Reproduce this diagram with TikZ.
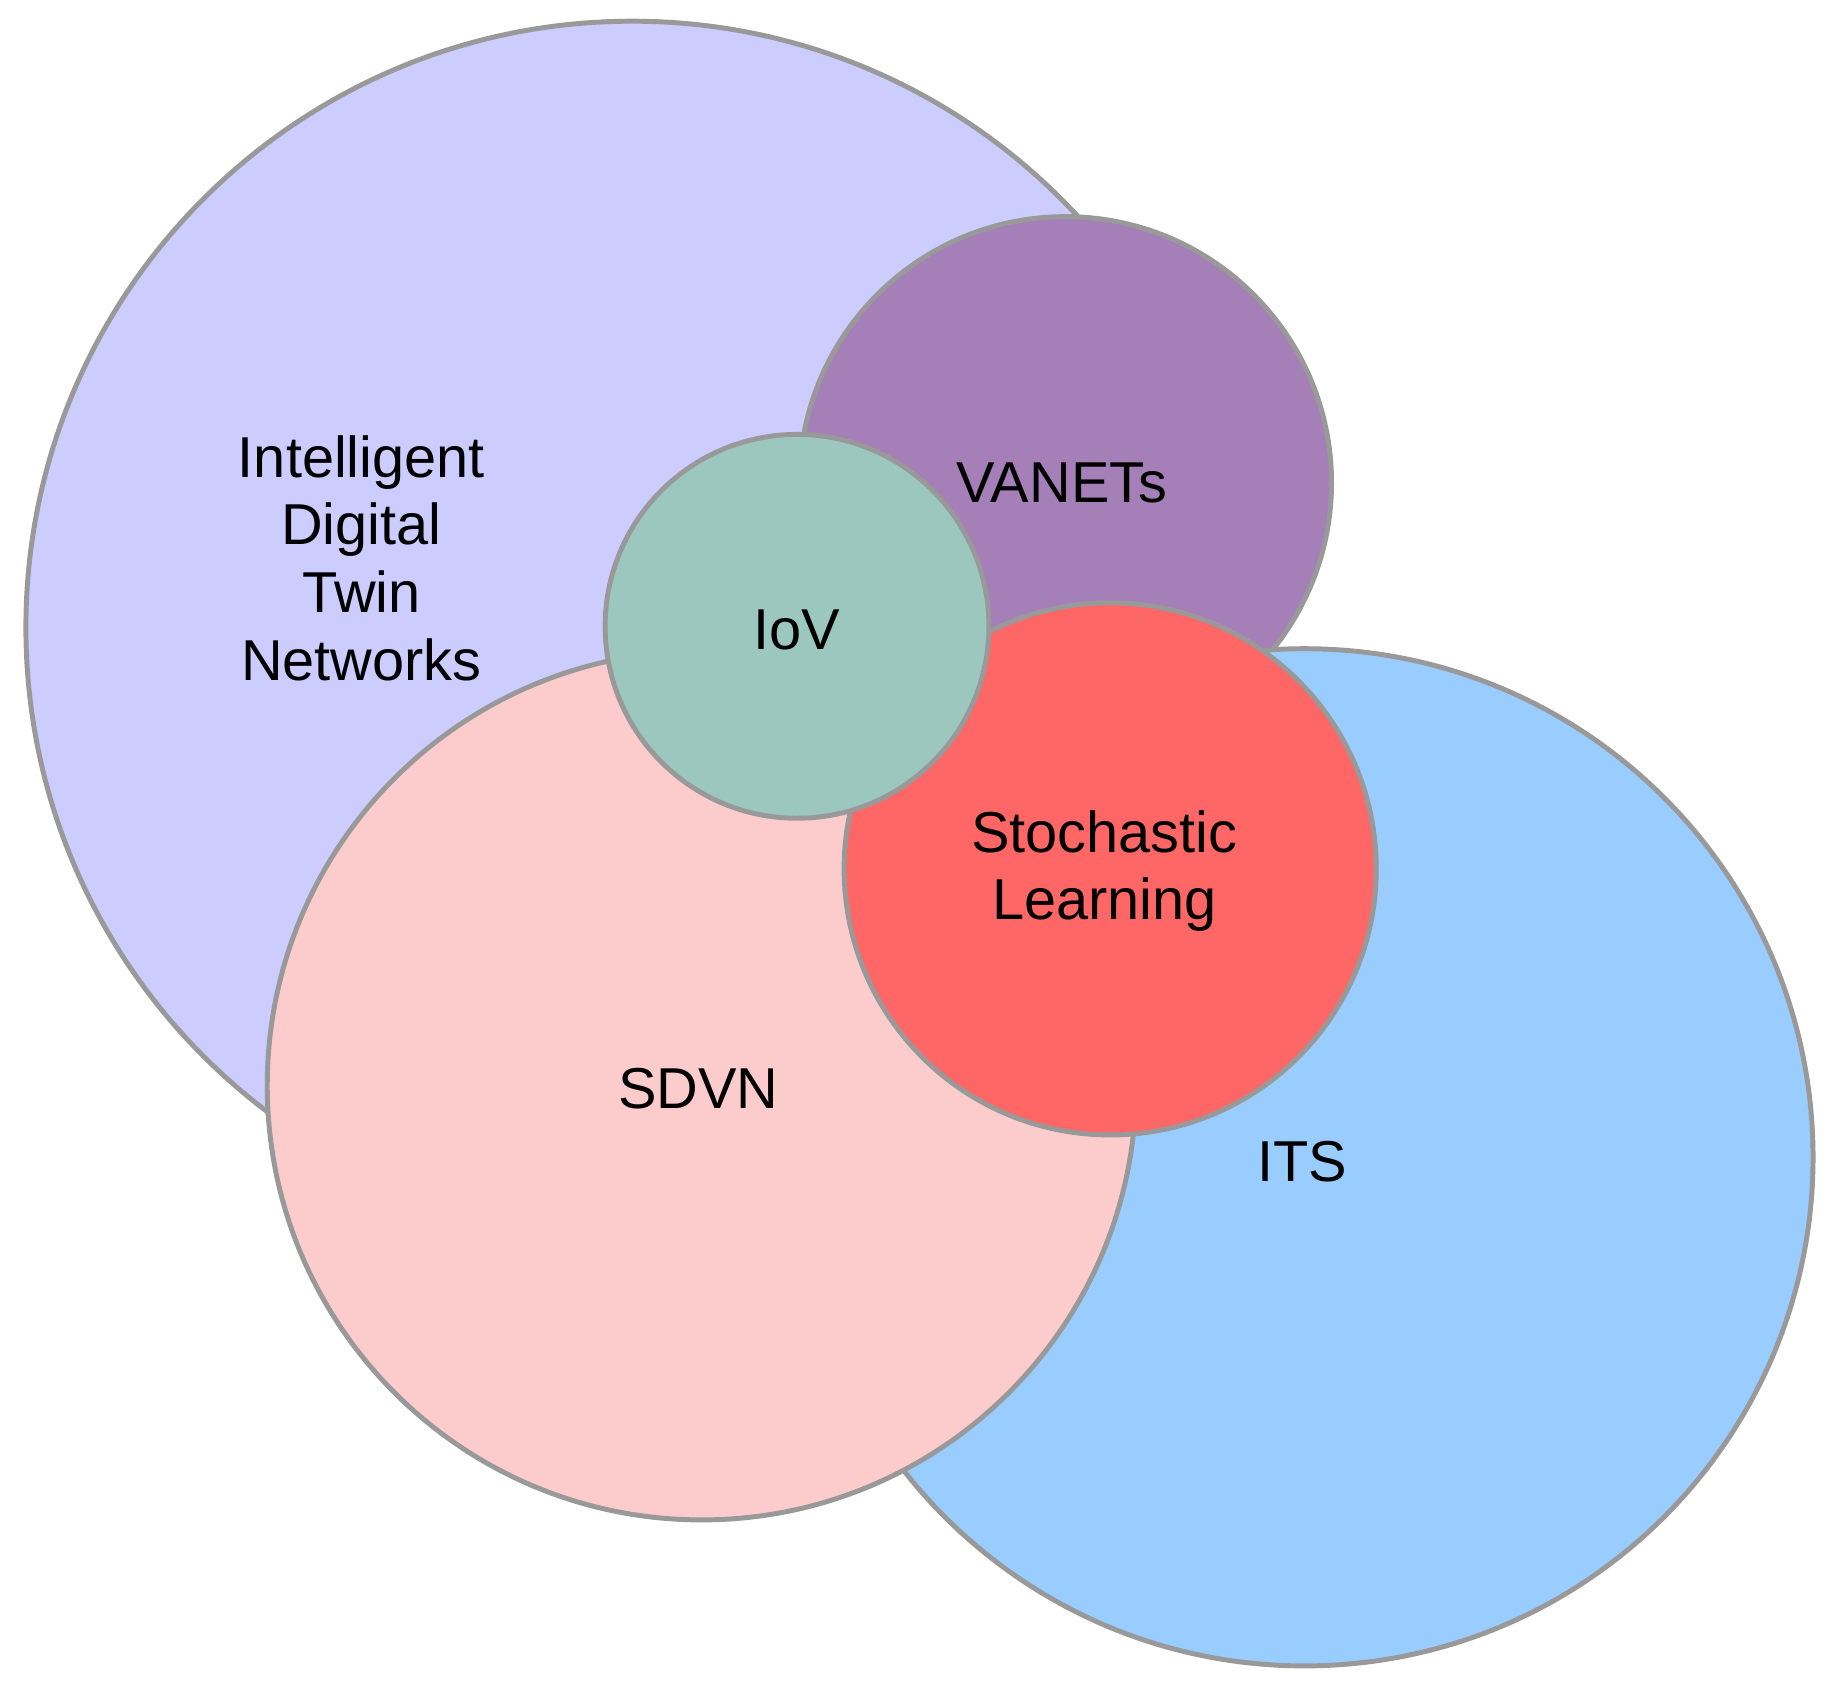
\documentclass[tikz,border=0pt]{standalone}
\usepackage{fontspec}
\setmainfont{Liberation Sans}
\definecolor{cidtn}{HTML}{CCCCFF}
\definecolor{cvan}{HTML}{A57FB7}
\definecolor{ciov}{HTML}{9BC7BF}
\definecolor{csto}{HTML}{FF6666}
\definecolor{cits}{HTML}{99CCFF}
\definecolor{csdvn}{HTML}{FCCCCC}
\definecolor{cline}{HTML}{999999}
\begin{document}
\begin{tikzpicture}[x=0.5pt,y=-0.5pt,
  venn/.style={draw=cline,line width=2.1pt},
  lbl/.style={align=center,font=\fontsize{24.5}{28.75}\selectfont,inner sep=0pt}]
\useasboundingbox (0,0) rectangle (1568,1441);
\fill[white] (0,0) rectangle (1568,1441);
\filldraw[venn,fill=cidtn] (537,533) circle[radius=515];
\filldraw[venn,fill=cvan] (905,410) circle[radius=226];
\filldraw[venn,fill=cits] (1108,983) circle[radius=432];
\filldraw[venn,fill=csdvn] (596,922) circle[radius=369];
\filldraw[venn,fill=csto] (943,738) circle[radius=226];
\filldraw[venn,fill=ciov] (677,532) circle[radius=163];
\node[lbl] (idtn) at (307,474) {Intelligent\\Digital\\Twin\\Networks};
\node[lbl] (van) at (902,410) {VANETs};
\node[lbl] (iov) at (677,535) {IoV};
\node[lbl] (sto) at (938,740) {Stochastic\\Learning};
\node[lbl] (sdvn) at (593,925) {SDVN};
\node[lbl] (its) at (1106,987) {ITS};
\end{tikzpicture}
\end{document}
